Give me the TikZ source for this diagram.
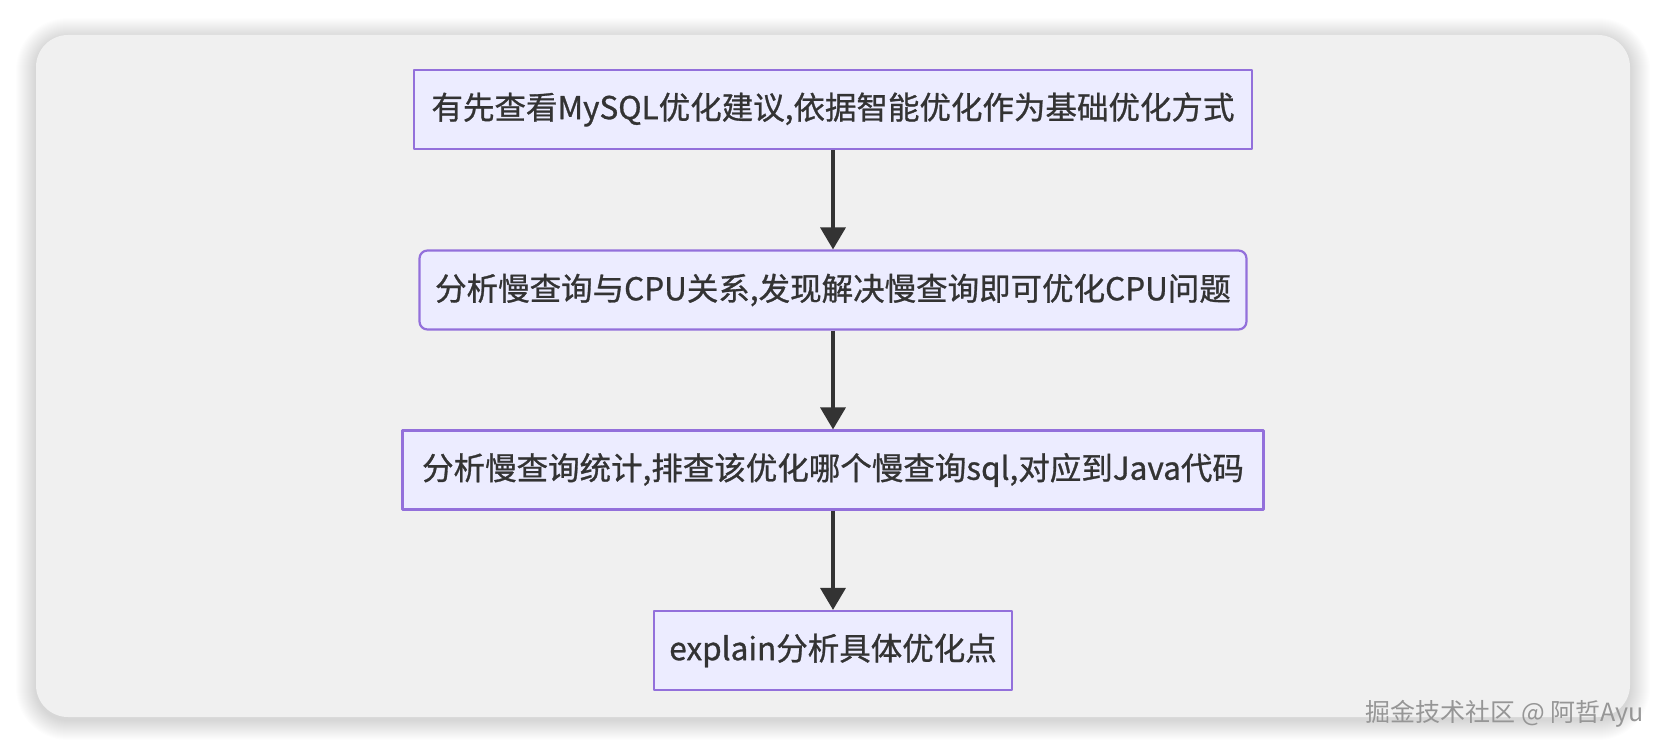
\documentclass[tikz,border=0pt]{standalone}
\usepackage{fontspec}
\setmainfont{Noto Sans CJK SC}
\newfontfamily\boxfont{Noto Sans CJK SC}[FakeBold=0.9]
\usetikzlibrary{arrows.meta}
\definecolor{panelgray}{RGB}{240,240,240}
\definecolor{boxfill}{RGB}{236,236,255}
\definecolor{boxline}{RGB}{147,112,219}
\definecolor{textdark}{RGB}{51,51,51}
\definecolor{markgray}{RGB}{150,150,150}
\tikzset{
  flowbox/.style={rectangle,draw=boxline,fill=boxfill,line width=2.2pt,
    text=textdark,minimum height=79pt,inner xsep=10pt,
    font=\boxfont\fontsize{31.5}{38}\selectfont},
  flowarrow/.style={->,draw=textdark,line width=3.6pt}
}
\begin{document}
\begin{tikzpicture}[x=1pt,y=-1pt,line join=round,>={Triangle[length=22pt,width=25pt]}]
        \useasboundingbox[fill=white] (0,0) rectangle (1666,752);
        % soft shadow round the panel
        \foreach \i in {1,...,20}
          \fill[black,opacity=0.008,rounded corners={32+\i}] ({36-\i},{35-\i+3}) rectangle ({1630+\i},{717+\i+3});
        \fill[panelgray,rounded corners=32] (36,35) rectangle (1630,717);
        % steps
        \node[flowbox,minimum width=838pt] (suggest) at (833,109.5) {有先查看MySQL优化建议,依据智能优化作为基础优化方式};
        \node[flowbox,minimum width=827pt,rounded corners=8pt] (relation) at (833,290) {分析慢查询与CPU关系,发现解决慢查询即可优化CPU问题};
        \node[flowbox,minimum width=861pt] (stats) at (833,470) {分析慢查询统计,排查该优化哪个慢查询sql,对应到Java代码};
        \node[flowbox,minimum width=358pt] (explain) at (833,650.5) {explain分析具体优化点};
        \draw[flowarrow] (suggest) -- (relation);
        \draw[flowarrow] (relation) -- (stats);
        \draw[flowarrow] (stats) -- (explain);
        % watermark
        \node[text=markgray,font=\fontsize{25}{30}\selectfont,anchor=east,inner sep=0pt] (mark) at (1644,714) {掘金技术社区 @ 阿哲Ayu};
\end{tikzpicture}
\end{document}
